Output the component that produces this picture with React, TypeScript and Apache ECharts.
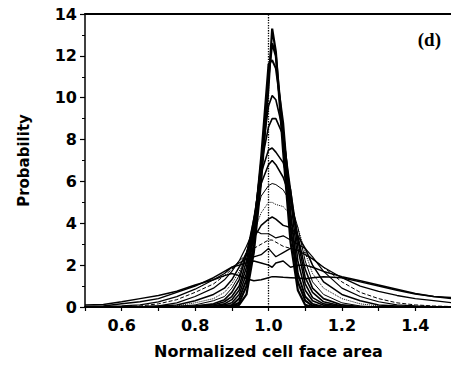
import React, { useEffect, useRef } from "react";
import * as echarts from "echarts";

const X = [0.5, 0.55, 0.6, 0.65, 0.7, 0.75, 0.8, 0.85, 0.88, 0.9, 0.92, 0.94, 0.96, 0.98, 1.0, 1.01, 1.02, 1.04, 1.06, 1.08, 1.1, 1.12, 1.15, 1.2, 1.25, 1.3, 1.35, 1.4, 1.45, 1.5];

const P_A = [0, 0, 0, 0, 0, 0, 0, 0, 0, 0, 0.1, 0.6, 2.6, 6.0, 10.5, 13.3, 12.2, 7.4, 3.1, 0.8, 0.1, 0, 0, 0, 0, 0, 0, 0, 0, 0];
const P_B = [0, 0, 0, 0, 0, 0, 0, 0, 0, 0.05, 0.2, 1.0, 3.0, 6.6, 11.0, 12.6, 12.0, 8.2, 3.8, 1.2, 0.3, 0.05, 0, 0, 0, 0, 0, 0, 0, 0];
const P_C = [0, 0, 0, 0, 0, 0, 0, 0, 0.05, 0.1, 0.4, 1.3, 3.5, 7.2, 11.6, 11.8, 11.4, 8.8, 4.5, 1.6, 0.5, 0.15, 0, 0, 0, 0, 0, 0, 0, 0];
const P_D = [0, 0, 0, 0, 0, 0, 0, 0.05, 0.1, 0.2, 0.6, 1.6, 3.8, 7.0, 9.6, 10.1, 9.9, 8.4, 5.2, 2.2, 0.8, 0.3, 0.08, 0, 0, 0, 0, 0, 0, 0];
const P_E = [0, 0, 0, 0, 0, 0, 0.02, 0.05, 0.15, 0.35, 0.8, 1.9, 4.0, 6.8, 8.6, 9.0, 9.0, 8.2, 5.6, 2.8, 1.1, 0.45, 0.15, 0.03, 0, 0, 0, 0, 0, 0];
const P_F = [0, 0, 0, 0, 0, 0, 0.05, 0.1, 0.25, 0.5, 1.0, 2.2, 4.2, 6.4, 7.5, 7.6, 7.4, 6.9, 5.6, 3.2, 1.4, 0.7, 0.25, 0.05, 0, 0, 0, 0, 0, 0];
const P_G = [0, 0, 0, 0, 0, 0.02, 0.05, 0.15, 0.35, 0.7, 1.3, 2.5, 4.2, 5.9, 6.8, 7.0, 6.8, 6.2, 5.2, 3.4, 1.8, 0.9, 0.4, 0.1, 0.02, 0, 0, 0, 0, 0];
const P_H = [0, 0, 0, 0, 0, 0.03, 0.1, 0.3, 0.5, 0.9, 1.5, 2.6, 4.0, 5.3, 5.8, 5.9, 5.85, 5.6, 5.0, 3.8, 2.2, 1.2, 0.6, 0.2, 0.05, 0, 0, 0, 0, 0];
const P_I = [0, 0, 0, 0, 0.02, 0.05, 0.2, 0.4, 0.7, 1.1, 1.7, 2.6, 3.6, 4.5, 5.0, 5.0, 4.9, 4.8, 4.4, 3.8, 2.6, 1.6, 0.9, 0.4, 0.15, 0.05, 0, 0, 0, 0];
const P_J = [0, 0, 0, 0, 0.05, 0.1, 0.3, 0.6, 0.9, 1.3, 1.9, 2.6, 3.3, 3.9, 4.2, 4.3, 4.2, 3.9, 3.8, 3.4, 2.8, 2.0, 1.2, 0.6, 0.3, 0.1, 0.05, 0, 0, 0];
const P_K = [0, 0, 0, 0.02, 0.05, 0.2, 0.5, 0.9, 1.3, 1.7, 2.2, 2.9, 3.7, 3.5, 3.5, 3.4, 3.3, 3.4, 3.2, 3.0, 2.8, 2.4, 1.7, 0.9, 0.5, 0.25, 0.1, 0.05, 0.02, 0];
const P_L = [0, 0, 0.02, 0.05, 0.15, 0.35, 0.7, 1.1, 1.5, 1.8, 2.2, 2.5, 2.8, 3.0, 3.2, 3.2, 3.1, 2.9, 2.8, 2.7, 2.6, 2.3, 1.9, 1.2, 0.7, 0.4, 0.2, 0.1, 0.05, 0.02];
const P_M = [0, 0.02, 0.05, 0.1, 0.25, 0.5, 0.85, 1.3, 1.6, 1.9, 2.1, 2.3, 2.4, 2.5, 2.8, 2.6, 2.4, 2.6, 2.8, 2.7, 2.5, 2.3, 1.9, 1.4, 1.0, 0.75, 0.55, 0.4, 0.3, 0.2];
const P_N = [0.02, 0.05, 0.15, 0.25, 0.4, 0.7, 1.0, 1.4, 1.7, 1.9, 2.0, 2.1, 2.2, 2.1, 2.0, 1.9, 2.1, 2.2, 1.9, 2.0, 2.0, 1.9, 1.7, 1.45, 1.25, 1.05, 0.85, 0.65, 0.5, 0.4];
const P_O = [0.1, 0.12, 0.25, 0.4, 0.55, 0.75, 1.05, 1.3, 1.5, 1.6, 1.5, 1.35, 1.25, 1.3, 1.4, 1.45, 1.45, 1.42, 1.4, 1.38, 1.35, 1.4, 1.45, 1.4, 1.2, 1.0, 0.8, 0.62, 0.5, 0.45];

const CURVES = [P_A, P_B, P_C, P_D, P_E, P_F, P_G, P_H, P_I, P_J, P_K, P_L, P_M, P_N, P_O];
const WIDTHS = [2.2, 2.2, 2, 1.6, 1.6, 1.6, 1.6, 1, 1, 1.5, 1.2, 1, 1.3, 1.5, 1.5];
const TYPES = ["solid", "solid", "solid", "solid", "solid", "solid", "solid", "solid", "dotted", "solid", "solid", "dashed", "solid", "solid", "solid"];

const REF_X = 1.0;
const X_MIN = 0.5;
const X_MAX = 1.5;
const Y_MIN = 0;
const Y_MAX = 14;

export default function App() {
  const ref = useRef<HTMLDivElement>(null);
  useEffect(() => {
    if (!ref.current) return;
    const chart = echarts.init(ref.current, null, { renderer: "svg" });
    const font = "DejaVu Sans";
    const series: any[] = CURVES.map((vals, i) => ({
      type: "line",
      data: X.map((x, j) => [x, vals[j]]),
      showSymbol: false,
      symbol: "none",
      lineStyle: { color: "#000", width: WIDTHS[i], type: TYPES[i] },
      z: 3,
    }));
    series[0].markLine = {
      silent: true,
      symbol: "none",
      label: { show: false },
      lineStyle: { color: "#000", type: "dotted", width: 1.3 },
      data: [{ xAxis: REF_X }],
    };
    chart.setOption({
      animation: false,
      grid: { left: 85, right: 0, top: 14, bottom: 63 },
      xAxis: [
        {
          type: "value",
          min: X_MIN,
          max: X_MAX,
          interval: 0.1,
          name: "Normalized cell face area",
          nameLocation: "middle",
          nameGap: 36,
          nameTextStyle: { fontFamily: font, fontWeight: "bold", fontSize: 16, color: "#000" },
          axisLine: { show: true, onZero: false, lineStyle: { color: "#000", width: 2 } },
          axisTick: { show: true, length: 4, lineStyle: { color: "#000", width: 1.2 } },
          axisLabel: {
            interval: 0,
            margin: 10,
            fontFamily: font,
            fontWeight: "bold",
            fontSize: 16,
            color: "#000",
            formatter: (v: number) => {
              const t = Math.round(v * 10);
              return t % 2 === 0 && t > 5 && t < 15 ? v.toFixed(1) : "";
            },
          },
          splitLine: { show: false },
        },
        {
          type: "value",
          position: "top",
          min: X_MIN,
          max: X_MAX,
          axisLine: { show: true, onZero: false, lineStyle: { color: "#000", width: 2 } },
          axisTick: { show: false },
          axisLabel: { show: false },
          splitLine: { show: false },
        },
      ],
      yAxis: {
        type: "value",
        min: Y_MIN,
        max: Y_MAX,
        interval: 2,
        name: "Probability",
        nameLocation: "middle",
        nameGap: 54,
        nameRotate: 90,
        nameTextStyle: { fontFamily: font, fontWeight: "bold", fontSize: 15, color: "#000" },
        axisLine: { show: true, onZero: false, lineStyle: { color: "#000", width: 1.5 } },
        axisTick: { show: true, length: 5, lineStyle: { color: "#000", width: 1.2 } },
        minorTick: { show: true, splitNumber: 2, length: 3, lineStyle: { color: "#000", width: 1 } },
        axisLabel: { margin: 8, fontFamily: font, fontWeight: "bold", fontSize: 16, color: "#000" },
        splitLine: { show: false },
      },
      graphic: [
        {
          type: "text",
          right: 14,
          top: 30,
          style: {
            text: "(d)",
            font: "bold 19px 'Liberation Serif'",
            fill: "#000",
          },
        },
      ],
      series,
    });
    return () => chart.dispose();
  }, []);
  return (
    <div
      style={{ position: "fixed", left: 0, top: 0, width: 451, height: 370, overflow: "hidden", background: "#fff" }}
    >
      <div ref={ref} style={{ width: 455, height: 370 }} />
    </div>
  );
}
